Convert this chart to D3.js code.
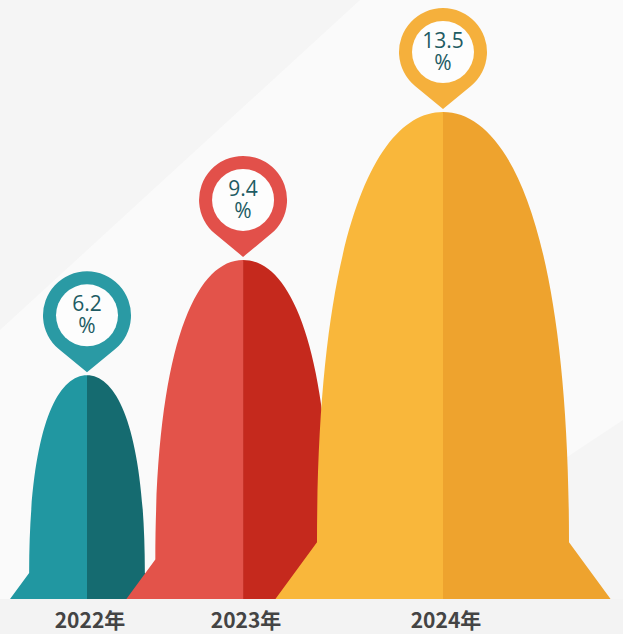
<!DOCTYPE html>
<html>
<head>
<meta charset="utf-8">
<script src="https://cdn.jsdelivr.net/npm/d3@7"></script>
<style>
	html, body { margin: 0; padding: 0; background: #f7f7f7; }
	svg { display: block; }
</style>
</head>
<body>
<script>
var years = ["2022年", "2023年", "2024年"];
var values = [6.2, 9.4, 13.5];
var valueLabels = ["6.2", "9.4", "13.5"];

var lightColors = ["#2197a1", "#e3534a", "#f9b73b"];
var darkColors = ["#156b70", "#c5291d", "#eea32e"];
var pinColors = ["#2a9aa4", "#e2504a", "#f5b03c"];

var W = 623, H = 634;
var baseY = 599;

var svg = d3.select("body").append("svg")
	.attr("width", W)
	.attr("height", H);

// background
svg.append("rect").attr("width", W).attr("height", H).attr("fill", "#f5f5f5");
svg.append("path")
	.attr("d", "M0,330 L360,0 L623,0 L623,420 L300,634 L0,634 Z")
	.attr("fill", "#fafafa");
svg.append("rect").attr("y", baseY).attr("width", W).attr("height", H - baseY).attr("fill", "#f3f3f3");

var x = d3.scaleLinear().domain(d3.extent(values)).range([87, 443]);
var y = d3.scaleLinear().domain([0, 13.5]).range([baseY, 112]);
var hw = d3.scaleLinear().domain([0, 13.5]).range([0, 126]);

// one half of a bell, side = -1 (left) or 1 (right)
function halfBell(v, side) {
	var cx = x(v), top = y(v), w = hw(v);
	var bodyY = baseY - 0.45 * w;
	var h = bodyY - top;
	var p = d3.path();
	p.moveTo(cx, top);
	p.bezierCurveTo(cx + side * 0.55 * w, top, cx + side * w, top + 0.3 * h, cx + side * w, bodyY);
	p.lineTo(cx + side * w * 1.33, baseY);
	p.lineTo(cx, baseY);
	p.closePath();
	return p.toString();
}

function pin(v) {
	var cx = x(v), tip = y(v) - 3;
	var r = 44, d = 57;
	var cy = tip - d;
	var a = Math.acos(r / d);
	var tx = r * Math.sin(a), ty = r * Math.cos(a);
	return "M" + cx + "," + tip
		+ "L" + (cx + tx) + "," + (cy + ty)
		+ "A" + r + "," + r + " 0 1,0 " + (cx - tx) + "," + (cy + ty)
		+ "Z";
}

var bells = svg.selectAll("g.bell")
	.data(values)
	.enter().append("g")
	.attr("class", "bell");

bells.append("path")
	.attr("d", function(v) { return halfBell(v, -1); })
	.attr("fill", function(v, i) { return lightColors[i]; });

bells.append("path")
	.attr("d", function(v) { return halfBell(v, 1); })
	.attr("fill", function(v, i) { return darkColors[i]; });

var pins = svg.selectAll("g.pin")
	.data(values)
	.enter().append("g")
	.attr("class", "pin");

pins.append("path")
	.attr("d", pin)
	.attr("fill", function(v, i) { return pinColors[i]; });

pins.append("circle")
	.attr("cx", function(v) { return x(v); })
	.attr("cy", function(v) { return y(v) - 60; })
	.attr("r", 31)
	.attr("fill", "#fdfdfd");

// value and % in one text, two lines
var label = pins.append("text")
	.attr("text-anchor", "middle")
	.attr("font-family", "'Open Sans', sans-serif")
	.attr("font-size", 21)
	.attr("fill", "#1d5b63");

label.append("tspan")
	.attr("x", function(v) { return x(v); })
	.attr("y", function(v) { return y(v) - 64; })
	.text(function(v, i) { return valueLabels[i]; });

label.append("tspan")
	.attr("x", function(v) { return x(v); })
	.attr("y", function(v) { return y(v) - 42; })
	.text("%");

svg.selectAll("text.year")
	.data(years)
	.enter().append("text")
	.attr("class", "year")
	.attr("x", function(d, i) { return x(values[i]) + 3; })
	.attr("y", 628)
	.attr("text-anchor", "middle")
	.attr("font-family", "'Noto Sans CJK SC', sans-serif")
	.attr("font-weight", "bold")
	.attr("font-size", 21)
	.attr("fill", "#444")
	.text(function(d) { return d; });
</script>
</body>
</html>
